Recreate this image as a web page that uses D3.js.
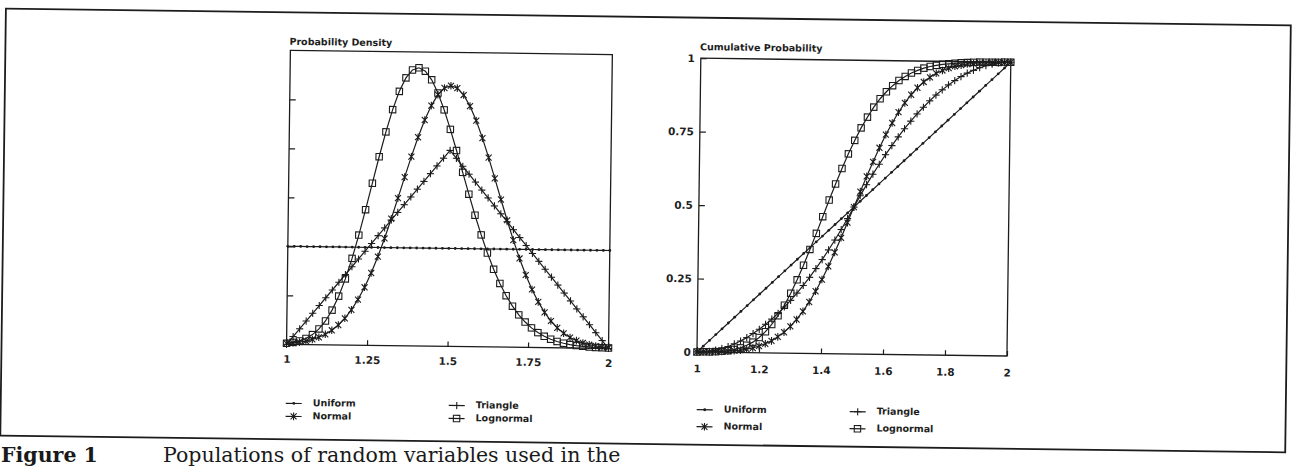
<!DOCTYPE html>
<html>
<head>
<meta charset="utf-8">
<script src="https://cdn.jsdelivr.net/npm/d3@7"></script>
<style>
  html, body { margin: 0; padding: 0; background: #ffffff; }
  svg { display: block; }
  .lbl { font-family: "DejaVu Sans", sans-serif; font-weight: bold; fill: #1e1e1e; }
  .cap { font-family: "DejaVu Serif", serif; fill: #1a1a1a; }
</style>
</head>
<body>
<svg id="fig" width="1294" height="470"></svg>
<script>
// Sample points of the random variable
const xValues = [1.00,1.02,1.04,1.06,1.08,1.10,1.12,1.14,1.16,1.18,1.20,1.22,1.24,1.26,1.28,1.30,1.32,1.34,1.36,1.38,1.40,1.42,1.44,1.46,1.48,1.50,1.52,1.54,1.56,1.58,1.60,1.62,1.64,1.66,1.68,1.70,1.72,1.74,1.76,1.78,1.80,1.82,1.84,1.86,1.88,1.90,1.92,1.94,1.96,1.98,2.00];

// Probability density of each population
const uniformDensity = [1,1,1,1,1,1,1,1,1,1,1,1,1,1,1,1,1,1,1,1,1,1,1,1,1,1,1,1,1,1,1,1,1,1,1,1,1,1,1,1,1,1,1,1,1,1,1,1,1,1,1];
const triangleDensity = [0,0.08,0.16,0.24,0.32,0.40,0.48,0.56,0.64,0.72,0.80,0.88,0.96,1.04,1.12,1.20,1.28,1.36,1.44,1.52,1.60,1.68,1.76,1.84,1.92,2.00,1.92,1.84,1.76,1.68,1.60,1.52,1.44,1.36,1.28,1.20,1.12,1.04,0.96,0.88,0.80,0.72,0.64,0.56,0.48,0.40,0.32,0.24,0.16,0.08,0];
const normalDensity = [0.010,0.016,0.024,0.036,0.053,0.076,0.107,0.149,0.204,0.273,0.360,0.466,0.592,0.739,0.907,1.093,1.295,1.506,1.721,1.931,2.130,2.307,2.455,2.567,2.636,2.660,2.636,2.567,2.455,2.307,2.130,1.931,1.721,1.506,1.295,1.093,0.907,0.739,0.592,0.466,0.360,0.273,0.204,0.149,0.107,0.076,0.053,0.036,0.024,0.016,0.010];
const lognormalDensity = [0.010,0.020,0.036,0.062,0.102,0.161,0.243,0.355,0.498,0.675,0.885,1.124,1.384,1.655,1.926,2.181,2.409,2.596,2.734,2.816,2.839,2.805,2.718,2.584,2.413,2.215,2.000,1.778,1.556,1.342,1.142,0.958,0.793,0.649,0.525,0.419,0.331,0.259,0.200,0.153,0.116,0.087,0.065,0.048,0.035,0.026,0.019,0.013,0.009,0.007,0.005];

// Cumulative probability of each population
const uniformCdf = [0,0.02,0.04,0.06,0.08,0.10,0.12,0.14,0.16,0.18,0.20,0.22,0.24,0.26,0.28,0.30,0.32,0.34,0.36,0.38,0.40,0.42,0.44,0.46,0.48,0.50,0.52,0.54,0.56,0.58,0.60,0.62,0.64,0.66,0.68,0.70,0.72,0.74,0.76,0.78,0.80,0.82,0.84,0.86,0.88,0.90,0.92,0.94,0.96,0.98,1.00];
const triangleCdf = [0,0.001,0.003,0.007,0.013,0.020,0.029,0.039,0.051,0.065,0.080,0.097,0.115,0.135,0.157,0.180,0.205,0.231,0.259,0.289,0.320,0.353,0.387,0.423,0.461,0.500,0.539,0.577,0.613,0.647,0.680,0.711,0.741,0.769,0.795,0.820,0.843,0.865,0.885,0.903,0.920,0.935,0.949,0.961,0.971,0.980,0.987,0.993,0.997,0.999,1.000];
const normalCdf = [0.000,0.001,0.001,0.002,0.003,0.004,0.006,0.008,0.012,0.016,0.023,0.031,0.041,0.055,0.071,0.091,0.115,0.143,0.175,0.212,0.252,0.297,0.345,0.395,0.447,0.500,0.553,0.605,0.655,0.703,0.748,0.788,0.825,0.857,0.885,0.909,0.929,0.945,0.959,0.969,0.977,0.984,0.988,0.992,0.994,0.996,0.997,0.998,0.999,0.999,1.000];
const lognormalCdf = [0.000,0.001,0.001,0.002,0.004,0.006,0.010,0.016,0.025,0.036,0.052,0.072,0.097,0.127,0.163,0.204,0.250,0.300,0.354,0.409,0.466,0.523,0.578,0.631,0.681,0.727,0.770,0.807,0.841,0.870,0.894,0.915,0.933,0.947,0.959,0.968,0.976,0.982,0.986,0.990,0.992,0.994,0.996,0.997,0.998,0.999,0.999,0.999,0.999,1.000,1.000];

// Axis ticks and labels
const densityXTicks = [1, 1.25, 1.5, 1.75, 2];
const densityXLabels = ["1", "1.25", "1.5", "1.75", "2"];
const densityYTicks = [0.5, 1, 1.5, 2, 2.5];
const cdfXTicks = [1, 1.2, 1.4, 1.6, 1.8, 2];
const cdfXLabels = ["1", "1.2", "1.4", "1.6", "1.8", "2"];
const cdfYTicks = [0, 0.25, 0.5, 0.75, 1];
const cdfYLabels = ["0", "0.25", "0.5", "0.75", "1"];

const seriesNames = ["Uniform", "Triangle", "Normal", "Lognormal"];
const seriesMarkers = ["dot", "plus", "star", "square"];

const ink = "#1c1c1c";
const svg = d3.select("#fig");
// the printed page sits slightly askew
const page = svg.append("g").attr("transform", "rotate(0.75 647 235)");

// outer figure box
page.append("rect")
  .attr("x", 3).attr("y", 17).attr("width", 1285).attr("height", 427)
  .attr("fill", "none").attr("stroke", ink).attr("stroke-width", 1.8);

function marker(sel, type) {
  if (type === "dot") {
    sel.append("circle").attr("r", 1.4).attr("fill", ink);
  } else if (type === "plus") {
    sel.append("path").attr("d", "M-3.6,0H3.6M0,-3.6V3.6")
      .attr("stroke", ink).attr("stroke-width", 1.1).attr("fill", "none");
  } else if (type === "star") {
    sel.append("path").attr("d", "M-3,-3L3,3M-3,3L3,-3M0,-3.8V3.8")
      .attr("stroke", ink).attr("stroke-width", 1.1).attr("fill", "none");
  } else {
    sel.append("rect").attr("x", -3.2).attr("y", -3.2).attr("width", 6.4).attr("height", 6.4)
      .attr("stroke", ink).attr("stroke-width", 1.1).attr("fill", "none");
  }
}

function panel(cfg) {
  const g = page.append("g");
  const x = d3.scaleLinear().domain([1, 2]).range([cfg.left, cfg.right]);
  const y = d3.scaleLinear().domain(cfg.yDomain).range([cfg.bottom, cfg.top]);

  g.append("rect")
    .attr("x", cfg.left).attr("y", y(cfg.yDomain[1]))
    .attr("width", cfg.right - cfg.left).attr("height", cfg.bottom - y(cfg.yDomain[1]))
    .attr("fill", "none").attr("stroke", ink).attr("stroke-width", 1.3);

  const xAxis = g.append("g").attr("transform", `translate(0,${cfg.bottom})`)
    .call(d3.axisBottom(x).tickValues(cfg.xTicks)
      .tickFormat((d, i) => cfg.xLabels[i])
      .tickSizeInner(-5).tickSizeOuter(0).tickPadding(cfg.xPad));
  const yAxis = g.append("g").attr("transform", `translate(${cfg.left},0)`)
    .call(d3.axisLeft(y).tickValues(cfg.yTicks)
      .tickFormat((d, i) => cfg.yLabels ? cfg.yLabels[i] : "")
      .tickSizeInner(-6).tickSizeOuter(0).tickPadding(6));
  [xAxis, yAxis].forEach(a => {
    a.select(".domain").remove();
    a.selectAll("line").attr("stroke", ink).attr("stroke-width", 1.2);
    a.selectAll("text").attr("class", "lbl").attr("font-size", 10.5).attr("font-family", null);
  });

  g.append("text").attr("class", "lbl")
    .attr("x", cfg.left - 1).attr("y", cfg.titleY)
    .attr("font-size", 9.5).attr("dominant-baseline", "middle")
    .text(cfg.title);

  const line = d3.line().x((d, i) => x(xValues[i])).y(d => y(d));
  cfg.series.forEach((vals, s) => {
    g.append("path").datum(vals).attr("d", line)
      .attr("fill", "none").attr("stroke", ink).attr("stroke-width", 1.2);
    g.selectAll(null).data(vals).enter().append("g")
      .attr("transform", (d, i) => `translate(${x(xValues[i])},${y(d)})`)
      .each(function () { marker(d3.select(this), seriesMarkers[s]); });
  });

  // legend, two columns by two rows
  seriesNames.forEach((name, s) => {
    const col = s % 2, row = Math.floor(s / 2);
    const lx = cfg.legendX[col], ly = cfg.legendY[row];
    const item = g.append("g").attr("transform", `translate(${lx},${ly})`);
    item.append("line").attr("x1", 0).attr("x2", 16).attr("y1", 0).attr("y2", 0)
      .attr("stroke", ink).attr("stroke-width", 1.2);
    marker(item.append("g").attr("transform", "translate(8,0)"), seriesMarkers[s]);
    item.append("text").attr("class", "lbl").attr("x", 27).attr("y", 0)
      .attr("font-size", 9.5).attr("dominant-baseline", "middle").text(name);
  });
}

panel({
  left: 288, right: 610, top: 55, bottom: 349, yDomain: [0, 3],
  xTicks: densityXTicks, xLabels: densityXLabels, xPad: 11,
  yTicks: densityYTicks, yLabels: null,
  title: "Probability Density", titleY: 47,
  series: [uniformDensity, triangleDensity, normalDensity, lognormalDensity],
  legendX: [288, 451], legendY: [408, 421]
});

panel({
  left: 698.5, right: 1008.5, top: 57.5, bottom: 351.3, yDomain: [0, 1],
  xTicks: cdfXTicks, xLabels: cdfXLabels, xPad: 13,
  yTicks: cdfYTicks, yLabels: cdfYLabels,
  title: "Cumulative Probability", titleY: 47,
  series: [uniformCdf, triangleCdf, normalCdf, lognormalCdf],
  legendX: [699, 852], legendY: [409, 426]
});

// figure caption
const cap = svg.append("text").attr("class", "cap").attr("x", 1).attr("y", 462).attr("font-size", 20.5);
cap.append("tspan").attr("font-weight", "bold").text("Figure 1");
cap.append("tspan").attr("x", 163).text("Populations of random variables used in the");
</script>
</body>
</html>
